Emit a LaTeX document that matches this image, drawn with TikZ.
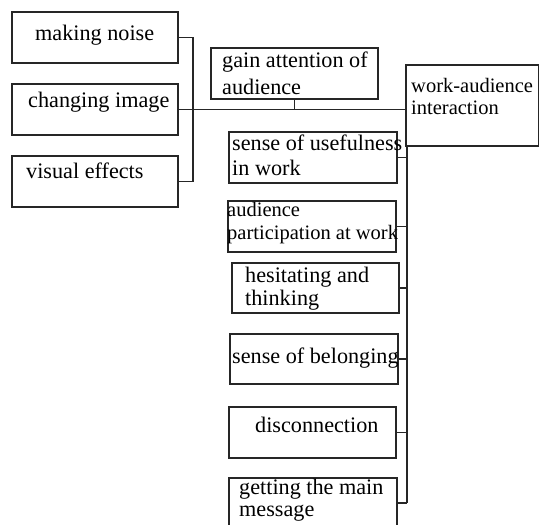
\documentclass[tikz,border=0pt]{standalone}
\usepackage{fontspec}
\setmainfont{Liberation Serif}
\begin{document}
\begin{tikzpicture}[x=1pt,y=-1pt,
  box/.style={draw=black!85, line width=1.5pt, inner sep=0pt, anchor=north west},
  lbl/.style={anchor=base west, inner sep=0pt, font=\fontsize{22.2}{24}\selectfont},
  slbl/.style={lbl, font=\fontsize{20.5}{23}\selectfont},
  conn/.style={draw=black!85, line width=1.5pt}]
\useasboundingbox (0,0) rectangle (539,525);
% boxes
\node[box, minimum width=166pt, minimum height=51pt] (m1) at (11,11) {};
\node[box, minimum width=166pt, minimum height=51pt] (m2) at (11,83) {};
\node[box, minimum width=166pt, minimum height=51pt] (m3) at (11,155) {};
\node[box, minimum width=167pt, minimum height=51pt] (g) at (210,47) {};
\node[box, minimum width=133pt, minimum height=81pt] (w) at (405,64) {};
\node[box, minimum width=168pt, minimum height=51pt] (s1) at (228,131) {};
\node[box, minimum width=168pt, minimum height=51pt] (s2) at (227,200) {};
\node[box, minimum width=167pt, minimum height=50pt] (s3) at (231,262) {};
\node[box, minimum width=168pt, minimum height=50pt] (s4) at (229,333) {};
\node[box, minimum width=167pt, minimum height=51pt] (s5) at (228,406) {};
\node[box, minimum width=168pt, minimum height=50pt] (s6) at (228,477) {};
% labels
\node[lbl] (t1) at (35,40) {making noise};
\node[lbl] (t2) at (28,107) {changing image};
\node[lbl] (t3) at (26,178) {visual effects};
\node[lbl] (tg1) at (222,67) {gain attention of};
\node[lbl] (tg2) at (222,94) {audience};
\node[slbl] (tw1) at (411,92) {work-audience};
\node[slbl] (tw2) at (411,114) {interaction};
\node[lbl] (ts1a) at (232,150) {sense of usefulness};
\node[lbl] (ts1b) at (232,175) {in work};
\node[slbl] (ts2a) at (227,216) {audience};
\node[slbl] (ts2b) at (227,239) {participation at work};
\node[lbl] (ts3a) at (245,282) {hesitating and};
\node[lbl] (ts3b) at (245,305) {thinking};
\node[lbl] (ts4) at (232,363) {sense of belonging};
\node[lbl] (ts5) at (255,432) {disconnection};
\node[lbl] (ts6a) at (239,494) {getting the main};
\node[lbl] (ts6b) at (239,516) {message};
% connectors
\coordinate (br) at (193,108);
\draw[conn] (m1.east) -| (br) |- (m3.east);
\draw[conn] (m2.east) -- (m2.east -| w.west);
\draw[conn] (g.south) -- (g.south |- m2.east);
\coordinate (vt) at ([xshift=2pt]w.south west);
\draw[conn] (vt) -- (vt |- s6.east);
\foreach \b in {s1,s2,s3,s4,s5,s6}
  \draw[conn] (\b.east) -- (\b.east -| vt);
\end{tikzpicture}
\end{document}
